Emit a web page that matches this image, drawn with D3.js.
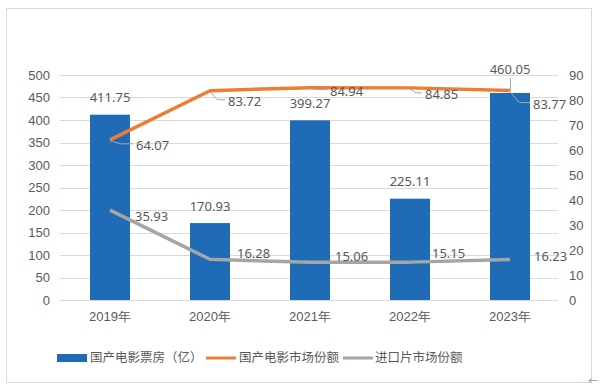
<!DOCTYPE html>
<html>
<head>
<meta charset="utf-8">
<script src="https://cdn.jsdelivr.net/npm/d3@7"></script>
<style>
  body { margin: 0; background: #fff; }
  svg { font-family: "Noto Sans", "Noto Sans CJK SC", sans-serif; }
</style>
</head>
<body>
<svg width="600" height="388"></svg>
<script>
// data
var years = ["2019年", "2020年", "2021年", "2022年", "2023年"];
var boxOffice = [411.75, 170.93, 399.27, 225.11, 460.05];
var domesticShare = [64.07, 83.72, 84.94, 84.85, 83.77];
var importShare = [35.93, 16.28, 15.06, 15.15, 16.23];
var leftTicks = [0, 50, 100, 150, 200, 250, 300, 350, 400, 450, 500];
var rightTicks = [0, 10, 20, 30, 40, 50, 60, 70, 80, 90];
var legendNames = ["国产电影票房（亿）", "国产电影市场份额", "进口片市场份额"];

// label placement (layout only, not data)
var domesticLabelPos = [[26, 6], [18, 11], [20, 4], [15, 7], [23, 14]];
var importLabelPos = [[25, 6], [27, -6], [25, -6], [22, -9], [24, -3]];

var blue = "#1f6bb5", orange = "#ed7d31", grey = "#a5a5a5", textColor = "#595959";

var svg = d3.select("svg");
var margin = { top: 75, right: 40, bottom: 88, left: 60 };
var width = 600 - margin.left - margin.right,
    height = 388 - margin.top - margin.bottom;

// frame
svg.append("rect")
    .attr("x", 6.5).attr("y", 8.5)
    .attr("width", 585).attr("height", 374)
    .attr("fill", "none").attr("stroke", "#d9d9d9");

var g = svg.append("g")
    .attr("transform", "translate(" + margin.left + "," + margin.top + ")");

var x = d3.scaleBand().domain(years).range([0, width]).paddingInner(0.6).paddingOuter(0.3);
var y = d3.scaleLinear().domain([0, 500]).range([height, 0]);
var y2 = d3.scaleLinear().domain([0, 90]).range([height, 0]);

// grid
g.selectAll(".grid").data(leftTicks).enter().append("line")
    .attr("x1", 0).attr("x2", width - 2)
    .attr("y1", function (d) { return Math.round(y(d)) + 0.5; })
    .attr("y2", function (d) { return Math.round(y(d)) + 0.5; })
    .attr("stroke", "#d9d9d9");

// left axis
var yAxis = d3.axisLeft(y).tickValues(leftTicks).tickSize(0).tickPadding(10);
g.append("g").call(yAxis).call(function (a) { a.select(".domain").remove(); })
    .selectAll("text").attr("fill", textColor).style("font-size", "13px");

// right axis
var yAxis2 = d3.axisRight(y2).tickValues(rightTicks).tickSize(0).tickPadding(9);
g.append("g").attr("transform", "translate(" + width + ",0)")
    .call(yAxis2).call(function (a) { a.select(".domain").remove(); })
    .selectAll("text").attr("fill", textColor).style("font-size", "13px");

// x axis
var xAxis = d3.axisBottom(x).tickSize(0).tickPadding(12);
g.append("g").attr("transform", "translate(0," + height + ")")
    .call(xAxis).call(function (a) { a.select(".domain").remove(); })
    .selectAll("text").attr("fill", textColor).style("font-size", "13px");

// bars
g.selectAll(".bar").data(boxOffice).enter().append("rect")
    .attr("x", function (d, i) { return x(years[i]); })
    .attr("width", x.bandwidth())
    .attr("y", function (d) { return y(d); })
    .attr("height", function (d) { return height - y(d); })
    .attr("fill", blue);

function cx(i) { return x(years[i]) + x.bandwidth() / 2; }

// lines
var line = function (scale) {
    return d3.line().x(function (d, i) { return cx(i); }).y(function (d) { return scale(d); });
};
g.append("path").datum(domesticShare).attr("d", line(y2))
    .attr("fill", "none").attr("stroke", orange).attr("stroke-width", 3.5).attr("stroke-linejoin", "round");
g.append("path").datum(importShare).attr("d", line(y2))
    .attr("fill", "none").attr("stroke", grey).attr("stroke-width", 3.5).attr("stroke-linejoin", "round");

// bar labels
g.selectAll(".blabel").data(boxOffice).enter().append("text")
    .attr("x", function (d, i) { return cx(i); })
    .attr("y", function (d, i) { return i === 4 ? y(d) - 24 : y(d) - 17; })
    .attr("dy", "0.35em")
    .attr("text-anchor", "middle")
    .attr("fill", textColor).style("font-size", "13px")
    .text(function (d) { return d.toFixed(2); });
// leader for moved bar label
g.append("line")
    .attr("x1", cx(4) + 0.5).attr("x2", cx(4) + 0.5)
    .attr("y1", y(boxOffice[4]) - 15).attr("y2", y2(domesticShare[4]))
    .attr("stroke", "#a6a6a6");

// domestic share labels with leaders
g.selectAll(".dlead").data(domesticShare).enter().append("path")
    .attr("d", function (d, i) {
        var px = cx(i), py = y2(d), p = domesticLabelPos[i];
        var ex = px + p[0] - 3, ey = py + p[1] - 2;
        return "M" + px + "," + (py + 1) + "L" + (px + p[0] * 0.4) + "," + ey + "L" + ex + "," + ey;
    })
    .attr("fill", "none").attr("stroke", "#a6a6a6").attr("stroke-width", 1);
g.selectAll(".dlabel").data(domesticShare).enter().append("text")
    .attr("x", function (d, i) { return cx(i) + domesticLabelPos[i][0]; })
    .attr("y", function (d, i) { return y2(d) + domesticLabelPos[i][1]; })
    .attr("dy", "0.35em")
    .attr("fill", textColor).style("font-size", "13px")
    .text(function (d) { return d.toFixed(2); });

// import share labels
g.selectAll(".ilabel").data(importShare).enter().append("text")
    .attr("x", function (d, i) { return cx(i) + importLabelPos[i][0]; })
    .attr("y", function (d, i) { return y2(d) + importLabelPos[i][1]; })
    .attr("dy", "0.35em")
    .attr("fill", textColor).style("font-size", "13px")
    .text(function (d) { return d.toFixed(2); });

// legend
var legendY = 358;
var legendItems = [
    { x: 57, type: "rect", color: blue, tx: 90 },
    { x: 206, type: "line", color: orange, tx: 239 },
    { x: 343, type: "line", color: grey, tx: 375 }
];
var legend = svg.append("g");
legendItems.forEach(function (item, i) {
    if (item.type === "rect") {
        legend.append("rect").attr("x", item.x).attr("y", legendY - 4)
            .attr("width", 30).attr("height", 8).attr("fill", item.color);
    } else {
        legend.append("line").attr("x1", item.x).attr("x2", item.x + 30)
            .attr("y1", legendY).attr("y2", legendY)
            .attr("stroke", item.color).attr("stroke-width", 3);
    }
    legend.append("text").attr("x", item.tx).attr("y", legendY).attr("dy", "0.35em")
        .attr("fill", textColor).style("font-size", "12.5px")
        .style("font-family", "'Noto Sans CJK SC', sans-serif")
        .text(legendNames[i]);
});

svg.append("text").attr("x", 588).attr("y", 381).attr("dy", "0.35em")
    .attr("fill", "#999").style("font-size", "10px").text("←");
</script>
</body>
</html>
